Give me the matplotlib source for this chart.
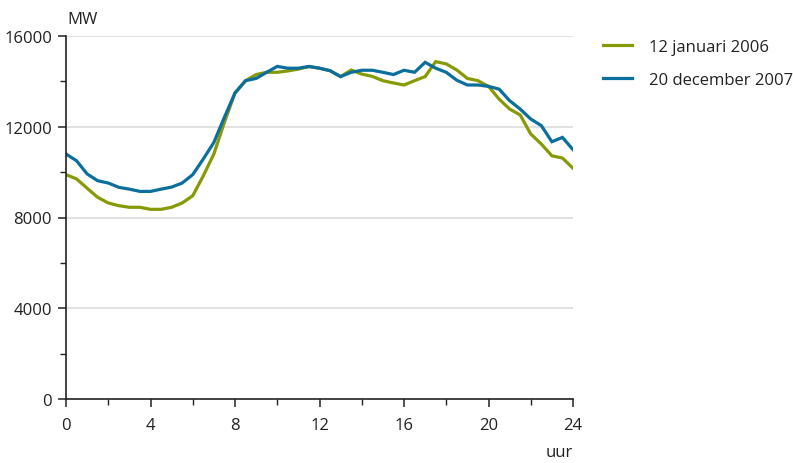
import matplotlib
matplotlib.use("Agg")
import matplotlib.pyplot as plt
import numpy as np

plt.rcParams['font.family'] = ['Open Sans', 'DejaVu Sans']

hours = np.arange(0, 24.01, 0.5)

jan_2006 = [9890, 9700, 9290, 8890, 8640, 8520, 8450, 8450, 8360, 8360,
            8450, 8640, 8960, 9840, 10800, 12200, 13490, 14030, 14300, 14400,
            14400, 14460, 14540, 14650, 14580, 14470, 14210, 14500, 14320, 14220,
            14030, 13930, 13840, 14030, 14210, 14870, 14770, 14500, 14130, 14030,
            13780, 13220, 12780, 12520, 11680, 11240, 10720, 10620, 10170]

dec_2007 = [10800, 10500, 9920, 9620, 9520, 9330, 9250, 9150, 9150, 9250,
            9340, 9520, 9890, 10580, 11310, 12420, 13490, 14030, 14130, 14400,
            14660, 14580, 14580, 14660, 14580, 14470, 14210, 14400, 14490, 14490,
            14400, 14300, 14490, 14400, 14840, 14580, 14400, 14050, 13840, 13840,
            13780, 13660, 13150, 12780, 12340, 12050, 11340, 11530, 10990]

labels = ["12 januari 2006", "20 december 2007"]
colors = ["#879A05", "#0C6E9C"]

fig = plt.figure(figsize=(7.93, 4.64), dpi=100)
ax = fig.add_axes([66/793, 64/464, 507/793, 363/464])

for y in [4000, 8000, 12000, 16000]:
    ax.axhline(y, color="#dcdcdc", lw=1.2, zorder=0)

ax.plot(hours, jan_2006, color=colors[0], lw=2.3, label=labels[0], solid_joinstyle='miter')
ax.plot(hours, dec_2007, color=colors[1], lw=2.3, label=labels[1], solid_joinstyle='miter')

ax.set_xlim(0, 24)
ax.set_ylim(0, 16000)
ax.set_xticks([0, 4, 8, 12, 16, 20, 24])
ax.set_xticks(np.arange(2, 24, 4), minor=True)
ax.set_yticks([0, 4000, 8000, 12000, 16000])
ax.set_yticks([2000, 6000, 10000, 14000], minor=True)

for s in ["top", "right"]:
    ax.spines[s].set_visible(False)
for s in ["left", "bottom"]:
    ax.spines[s].set_color("#222222")
    ax.spines[s].set_linewidth(1.2)

ax.tick_params(axis='both', which='major', direction='out', length=6, width=1.1,
               colors="#222222", labelsize=12, labelcolor="#222222")
ax.tick_params(axis='both', which='minor', direction='out', length=4, width=1.0,
               colors="#222222")
ax.tick_params(axis='x', which='major', pad=7)
ax.tick_params(axis='y', which='major', pad=4)

fig.text(67/793, 1 - 20/464, "MW", fontsize=12, color="#222222", ha='left', va='center')
fig.text(573/793, 1 - 453/464, "uur", fontsize=12, color="#222222", ha='right', va='center')

leg = fig.legend(loc='upper left', bbox_to_anchor=(603/793, 1 - 40/464), frameon=False,
                 fontsize=12, handlelength=1.75, handletextpad=1.0, labelspacing=1.0,
                 borderaxespad=0, borderpad=0)
for t in leg.get_texts():
    t.set_color("#222222")

fig.savefig("out.png", dpi=100)
